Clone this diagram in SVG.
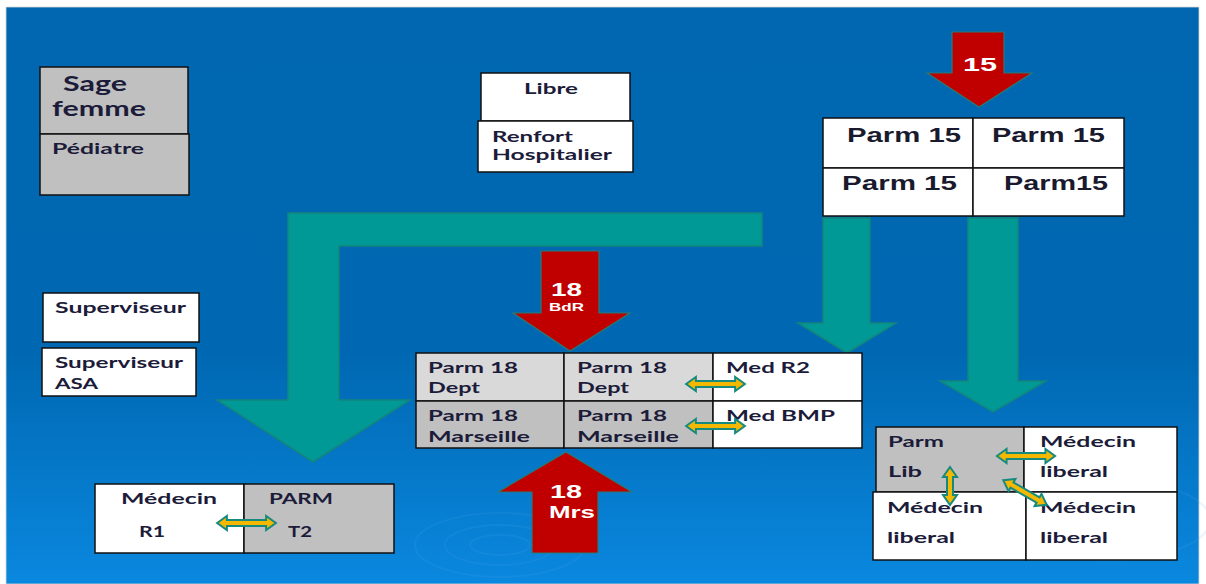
<svg xmlns="http://www.w3.org/2000/svg" width="1206" height="584" viewBox="0 0 1206 584">
<defs>
<linearGradient id="bg" x1="0" y1="0" x2="0" y2="1">
<stop offset="0" stop-color="#0067b0"/>
<stop offset="0.6" stop-color="#0068b2"/>
<stop offset="1" stop-color="#0a88df"/>
</linearGradient>
<path id="dbl60" d="M-30,0 L-20,-7 L-20,-3 L20,-3 L20,-7 L30,0 L20,7 L20,3 L-20,3 L-20,7 Z"/>
<style>
.t{font-family:Lato,"Open Sans","Liberation Sans",sans-serif;font-weight:bold;fill:#1c1c3a}
.a{font-family:"Liberation Sans",Arial,sans-serif;font-weight:bold}
.box{stroke:#111;stroke-width:1.5}
.g{fill:#c0c0c0}
.lg{fill:#d9d9d9}
.w{fill:#fff}
.teal{fill:#009996;stroke:#14857e;stroke-width:1.5}
.red{fill:#c00000;stroke:#2b7a72;stroke-width:1.2}
.wt{fill:#fff}
.dbl{fill:#f5b800;stroke:#178a80;stroke-width:2}
</style>
</defs>
<rect x="0" y="0" width="1206" height="584" fill="#fff"/>
<rect x="6" y="7" width="1193" height="577" fill="url(#bg)" stroke="#d8d8d8" stroke-width="0.8"/>
<g fill="none" stroke="#5ab0ec" stroke-opacity="0.12" stroke-width="2">
<ellipse cx="500" cy="545" rx="30" ry="10"/>
<ellipse cx="500" cy="545" rx="55" ry="20"/>
<ellipse cx="500" cy="545" rx="85" ry="32"/>
<ellipse cx="1110" cy="520" rx="60" ry="22"/>
<ellipse cx="1110" cy="520" rx="100" ry="40"/>
</g>

<g id="connectors">
<path class="teal" d="M288,213 L762,213 L762,246 L339,246 L339,400 L410,400 L313,462 L217,400 L288,400 Z"/>
<path class="teal" d="M823,218 L870,218 L870,323 L896,323 L847,353 L798,323 L823,323 Z"/>
<path class="teal" d="M968,218 L1018,218 L1018,381 L1046,381 L993,412 L940,381 L968,381 Z"/>
<path class="red" d="M952,32 L1004,32 L1004,73 L1032,73 L979,107 L927,73 L952,73 Z"/>
<text class="a wt" x="980" y="71" font-size="19" text-anchor="middle" textLength="34" lengthAdjust="spacingAndGlyphs">15</text>
<path class="red" d="M541,251 L599,251 L599,313 L630,313 L570,351 L513,313 L541,313 Z"/>
<text class="a wt" x="566.5" y="296" font-size="19" text-anchor="middle" textLength="31" lengthAdjust="spacingAndGlyphs">18</text>
<text class="a wt" x="566.5" y="311" font-size="10" text-anchor="middle" textLength="35" lengthAdjust="spacingAndGlyphs">BdR</text>
<path class="red" d="M566,452 L632,492 L598,492 L598,553 L532,553 L532,492 L498,492 Z"/>
<text class="a wt" x="566" y="498" font-size="19" text-anchor="middle" textLength="32" lengthAdjust="spacingAndGlyphs">18</text>
<text class="a wt" x="572" y="518" font-size="17" text-anchor="middle" textLength="46" lengthAdjust="spacingAndGlyphs">Mrs</text>
</g>

<g id="sage-femme">
<rect class="box g" x="40" y="67" width="148" height="67"/>
<text class="t" x="63" y="91" font-size="20" textLength="64" lengthAdjust="spacingAndGlyphs">Sage</text>
<text class="t" x="52" y="116" font-size="20" textLength="94" lengthAdjust="spacingAndGlyphs">femme</text>
</g>
<g id="pediatre">
<rect class="box g" x="40" y="134" width="149" height="61"/>
<text class="t" x="52" y="154" font-size="15.5" textLength="92" lengthAdjust="spacingAndGlyphs">Pédiatre</text>
</g>

<g id="libre">
<rect class="box w" x="481" y="73" width="149" height="48"/>
<text class="t" x="524" y="94" font-size="16" textLength="54" lengthAdjust="spacingAndGlyphs">Libre</text>
</g>
<g id="renfort">
<rect class="box w" x="478" y="121" width="155" height="51"/>
<text class="t" x="492" y="142" font-size="16" textLength="81" lengthAdjust="spacingAndGlyphs">Renfort</text>
<text class="t" x="492" y="160" font-size="16" textLength="120" lengthAdjust="spacingAndGlyphs">Hospitalier</text>
</g>

<g id="parm15-table">
<rect class="box w" x="823" y="118" width="150" height="50"/>
<rect class="box w" x="973" y="118" width="151" height="50"/>
<rect class="box w" x="823" y="168" width="150" height="48"/>
<rect class="box w" x="973" y="168" width="151" height="48"/>
<text class="a" fill="#1a1a2e" x="847" y="142" font-size="20" textLength="114" lengthAdjust="spacingAndGlyphs">Parm 15</text>
<text class="a" fill="#1a1a2e" x="992" y="142" font-size="20" textLength="113" lengthAdjust="spacingAndGlyphs">Parm 15</text>
<text class="a" fill="#1a1a2e" x="842" y="190" font-size="20" textLength="115" lengthAdjust="spacingAndGlyphs">Parm 15</text>
<text class="a" fill="#1a1a2e" x="1004" y="190" font-size="20" textLength="104" lengthAdjust="spacingAndGlyphs">Parm15</text>
</g>

<g id="superviseur">
<rect class="box w" x="43" y="293" width="156" height="49"/>
<text class="t" x="55" y="313" font-size="16" textLength="131" lengthAdjust="spacingAndGlyphs">Superviseur</text>
</g>
<g id="superviseur-asa">
<rect class="box w" x="42" y="348" width="154" height="48"/>
<text class="t" x="55" y="368" font-size="16" textLength="128" lengthAdjust="spacingAndGlyphs">Superviseur</text>
<text class="t" x="55" y="389" font-size="16" textLength="43" lengthAdjust="spacingAndGlyphs">ASA</text>
</g>

<g id="parm18-table">
<rect class="box lg" x="416" y="353" width="148" height="48"/>
<rect class="box lg" x="564" y="353" width="149" height="48"/>
<rect class="box w" x="713" y="353" width="149" height="48"/>
<rect class="box g" x="416" y="401" width="148" height="47"/>
<rect class="box g" x="564" y="401" width="149" height="47"/>
<rect class="box w" x="713" y="401" width="149" height="47"/>
<text class="t" x="428" y="373" font-size="15.5" textLength="90" lengthAdjust="spacingAndGlyphs">Parm 18</text>
<text class="t" x="428" y="393" font-size="15.5" textLength="52" lengthAdjust="spacingAndGlyphs">Dept</text>
<text class="t" x="577" y="373" font-size="15.5" textLength="90" lengthAdjust="spacingAndGlyphs">Parm 18</text>
<text class="t" x="577" y="393" font-size="15.5" textLength="52" lengthAdjust="spacingAndGlyphs">Dept</text>
<text class="t" x="428" y="421" font-size="15.5" textLength="90" lengthAdjust="spacingAndGlyphs">Parm 18</text>
<text class="t" x="428" y="442" font-size="15.5" textLength="102" lengthAdjust="spacingAndGlyphs">Marseille</text>
<text class="t" x="577" y="421" font-size="15.5" textLength="90" lengthAdjust="spacingAndGlyphs">Parm 18</text>
<text class="t" x="577" y="442" font-size="15.5" textLength="102" lengthAdjust="spacingAndGlyphs">Marseille</text>
<text class="t" x="726" y="373" font-size="15.5" textLength="84" lengthAdjust="spacingAndGlyphs">Med R2</text>
<text class="t" x="726" y="421" font-size="15.5" textLength="109" lengthAdjust="spacingAndGlyphs">Med BMP</text>
<use href="#dbl60" class="dbl" transform="translate(715.5,384) scale(0.98,1)"/>
<use href="#dbl60" class="dbl" transform="translate(715.5,426) scale(0.98,1)"/>
</g>

<g id="medecin-parm-t2">
<rect class="box w" x="95" y="484" width="149" height="69"/>
<rect class="box g" x="244" y="484" width="150" height="69"/>
<text class="t" x="121" y="504" font-size="16" textLength="96" lengthAdjust="spacingAndGlyphs">Médecin</text>
<text class="t" x="139" y="537" font-size="16" textLength="26" lengthAdjust="spacingAndGlyphs">R1</text>
<text class="t" x="269" y="504" font-size="16" textLength="64" lengthAdjust="spacingAndGlyphs">PARM</text>
<text class="t" x="288" y="537" font-size="16" textLength="24" lengthAdjust="spacingAndGlyphs">T2</text>
<use href="#dbl60" class="dbl" transform="translate(246.5,523) scale(0.98,1)"/>
</g>

<g id="parm-lib-table">
<rect class="box g" x="876" y="427" width="148" height="65"/>
<rect class="box w" x="1024" y="427" width="153" height="65"/>
<rect class="box w" x="873" y="492" width="153" height="68"/>
<rect class="box w" x="1026" y="492" width="151" height="68"/>
<text class="t" x="888" y="447" font-size="15.5" textLength="56" lengthAdjust="spacingAndGlyphs">Parm</text>
<text class="t" x="888" y="477" font-size="15.5" textLength="34" lengthAdjust="spacingAndGlyphs">Lib</text>
<text class="t" x="1040" y="447" font-size="15.5" textLength="96" lengthAdjust="spacingAndGlyphs">Médecin</text>
<text class="t" x="1040" y="477" font-size="15.5" textLength="68" lengthAdjust="spacingAndGlyphs">liberal</text>
<text class="t" x="887" y="513" font-size="15.5" textLength="96" lengthAdjust="spacingAndGlyphs">Médecin</text>
<text class="t" x="887" y="543" font-size="15.5" textLength="68" lengthAdjust="spacingAndGlyphs">liberal</text>
<text class="t" x="1040" y="513" font-size="15.5" textLength="96" lengthAdjust="spacingAndGlyphs">Médecin</text>
<text class="t" x="1040" y="543" font-size="15.5" textLength="68" lengthAdjust="spacingAndGlyphs">liberal</text>
<use href="#dbl60" class="dbl" transform="translate(1026,456) scale(0.97,1)"/>
<path class="dbl" transform="translate(950,486) rotate(90)" d="M-19,0 L-9,-7 L-9,-3 L9,-3 L9,-7 L19,0 L9,7 L9,3 L-9,3 L-9,7 Z"/>
<path class="dbl" transform="translate(1025,492.5) rotate(29.6)" d="M-25,0 L-15,-7 L-15,-3 L15,-3 L15,-7 L25,0 L15,7 L15,3 L-15,3 L-15,7 Z"/>
</g>
</svg>
